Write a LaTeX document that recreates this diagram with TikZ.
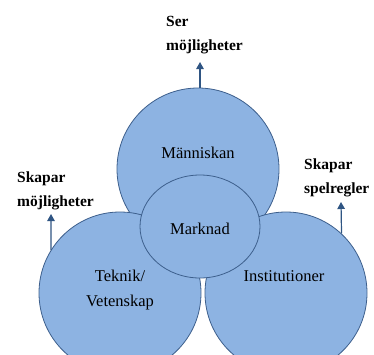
\documentclass[tikz,border=0pt]{standalone}
\usepackage{fontspec}
\setmainfont{Liberation Serif}
\usetikzlibrary{arrows.meta,shapes.geometric}
\definecolor{disc}{HTML}{8DB3E2}
\definecolor{rim}{HTML}{3D5F8C}
\definecolor{arr}{HTML}{2F5583}
\tikzset{
  disc/.style={circle, draw=rim, fill=disc, line width=0.8pt, minimum size=162pt, inner sep=0pt},
  core/.style={ellipse, draw=rim, fill=disc, line width=0.8pt, minimum width=120pt, minimum height=103pt, inner sep=0pt},
  word/.style={font=\fontsize{16.5}{25}\selectfont, text=black, inner sep=0pt, align=center},
  tag/.style={font=\fontsize{15.5}{24}\selectfont\bfseries, text=black, inner sep=0pt, align=left, anchor=north west},
  up/.style={draw=arr, line width=1.2pt, -{Triangle[length=7pt,width=7.5pt]}}
}
\begin{document}
\begin{tikzpicture}[x=1pt,y=-1pt]
\useasboundingbox (0,0) rectangle (374,354);
\begin{scope}
\clip (0,0) rectangle (374,354);
\node[disc] (top) at (198,169) {};
\node[disc] (left) at (120,293) {};
\node[disc] (right) at (286,293) {};
\node[core] (mid) at (200,226.5) {};
\end{scope}
\node[word] (t1) at (198,153) {Människan};
\node[word] (t2) at (200,229) {Marknad};
\node[word] (t3) at (120,290) {Teknik/\\Vetenskap};
\node[word] (t4) at (284,276) {Institutioner};
\node[tag] (l1) at (166,16) {Ser\\möjligheter};
\node[tag] (l2) at (17,171.5) {Skapar\\möjligheter};
\node[tag] (l3) at (304,159) {Skapar\\spelregler};
\coordinate (a1) at (200,62);
\coordinate (a2) at (51,214);
\coordinate (a3) at (341,202);
\draw[up] (top.north) ++(2,0) -- (a1);
\draw[up] (left.148.7) -- (a2);
\draw[up] (right.47.2) -- (a3);
\end{tikzpicture}
\end{document}
